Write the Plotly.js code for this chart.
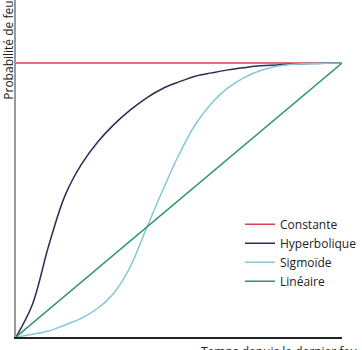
<!DOCTYPE html>
<html>
<head>
<meta charset="utf-8">
<script src="https://cdn.plot.ly/plotly-3.0.1.min.js"></script>
<style>html,body{margin:0;padding:0;background:#fff;}#chart{width:362px;height:350px;}</style>
</head>
<body>
<div id="chart"></div>
<script>
const seriesNames = ["Constante", "Hyperbolique", "Sigmoïde", "Linéaire"];
const constX = [0, 1];
const constY = [1, 1];
const curveX = [0, 0.05, 0.1, 0.15, 0.2, 0.25, 0.3, 0.35, 0.4, 0.45, 0.5, 0.55, 0.6, 0.65, 0.7, 0.75, 0.8, 0.85, 0.9, 0.95, 1];
const hypY = [0, 0.118, 0.332, 0.515, 0.629, 0.711, 0.775, 0.828, 0.872, 0.907, 0.931, 0.952, 0.964, 0.975, 0.983, 0.9897, 0.993, 0.9963, 0.998, 0.999, 1];
const sigY = [0, 0.01, 0.022, 0.044, 0.068, 0.104, 0.16, 0.255, 0.396, 0.5355, 0.666, 0.7755, 0.8535, 0.9095, 0.947, 0.9725, 0.988, 0.9956, 0.9986, 0.9995, 1];
const linX = [0, 1];
const linY = [0, 1];
const colors = ["#d9434f", "#2b2d55", "#84c8d6", "#2a9470"];
const xTitle = "Temps depuis le dernier feu";
const yTitle = "Probabilité de feu";

const xs = [constX, curveX, curveX, linX];
const ys = [constY, hypY, sigY, linY];
const traces = seriesNames.map((n, i) => ({
  x: xs[i], y: ys[i], name: n, type: "scatter", mode: "lines",
  line: {color: colors[i], width: 1.5, shape: "spline", smoothing: 1}
}));

const layout = {
  width: 362, height: 350,
  margin: {l: 16, r: 10, t: 0, b: 13},
  paper_bgcolor: "#fff", plot_bgcolor: "#fff",
  showlegend: true,
  font: {family: "Open Sans, sans-serif", size: 12, color: "#222"},
  xaxis: {range: [0, 1], showgrid: false, zeroline: false, showticklabels: false, ticks: "",
          showline: true, linecolor: "#222", linewidth: 1.5},
  yaxis: {range: [0, 1.23], showgrid: false, zeroline: false, showticklabels: false, ticks: "",
          showline: true, linecolor: "#999", linewidth: 2},
  legend: {x: 0.688, y: 0.25, xanchor: "left", yanchor: "middle", bgcolor: "rgba(0,0,0,0)",
           font: {family: "Open Sans, sans-serif", size: 12, color: "#222"}},
  annotations: [
    {text: yTitle, xref: "paper", yref: "paper", x: -0.024, y: 0.85, textangle: -90,
     showarrow: false, xanchor: "center", yanchor: "middle", font: {size: 12, color: "#222"}},
    {text: xTitle, xref: "paper", yref: "paper", x: 0.808, y: -0.042,
     showarrow: false, xanchor: "center", yanchor: "middle", font: {size: 12, color: "#222"}}
  ]
};
Plotly.newPlot("chart", traces, layout, {displayModeBar: false, staticPlot: true});
</script>
</body>
</html>
